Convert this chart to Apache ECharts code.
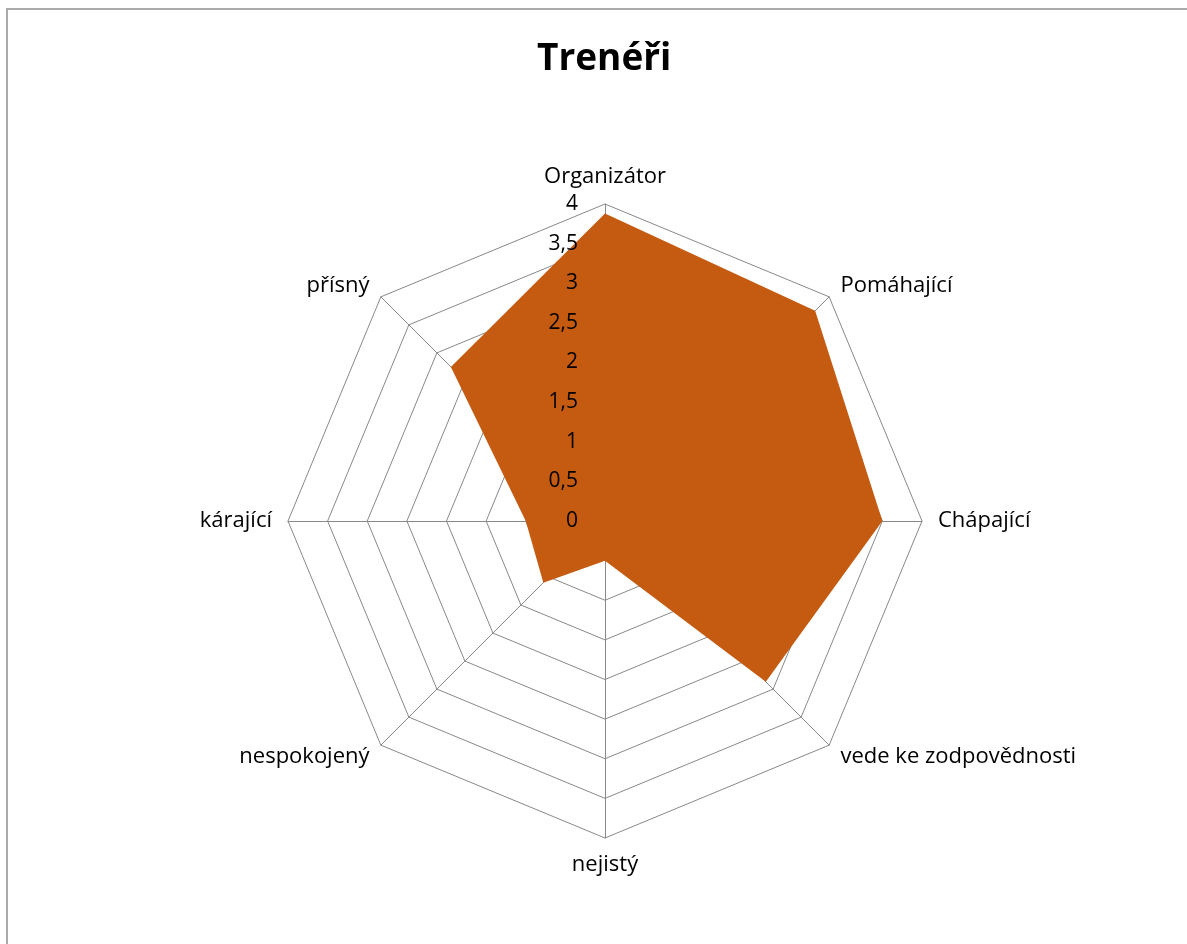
<!DOCTYPE html>
<html>
<head>
<meta charset="utf-8">
<script src="https://cdn.jsdelivr.net/npm/echarts@6/dist/echarts.min.js"></script>
<style>
html, body { margin: 0; padding: 0; background: #fff; }
#chart { width: 1187px; height: 944px; }
</style>
</head>
<body>
<div id="chart"></div>
<script>
// listed clockwise from the top, as in the reference
var categories = ['Organizátor', 'Pomáhající', 'Chápající', 'vede ke zodpovědnosti', 'nejistý', 'nespokojený', 'kárající', 'přísný'];
var values = [3.88, 3.75, 3.5, 2.87, 0.5, 1.1, 1.0, 2.75];
var axisMax = 4;
var tickStep = 0.5;

var center = [605, 521];
var radius = 317;

// echarts radar runs counter-clockwise, so keep the first and reverse the rest
function clockwise(arr) {
    return [arr[0]].concat(arr.slice(1).reverse());
}

var myChart = echarts.init(document.getElementById('chart'));
var option = {
    backgroundColor: '#fff',
    title: {
        text: 'Trenéři',
        left: 532,
        top: 36,
        textStyle: { fontFamily: 'Open Sans', fontSize: 37, fontWeight: 'bold', color: '#000' }
    },
    graphic: [{
        type: 'rect',
        shape: { x: 7, y: 9, width: 1200, height: 1000 },
        style: { fill: 'none', stroke: '#aaaaaa', lineWidth: 2 },
        silent: true
    }],
    radar: {
        center: center,
        radius: radius,
        startAngle: 90,
        splitNumber: axisMax / tickStep,
        shape: 'polygon',
        nameGap: 16,
        indicator: clockwise(categories).map(function (c) { return { name: c, min: 0, max: axisMax }; }),
        axisName: { color: '#000', fontSize: 22, fontFamily: 'Open Sans' },
        axisLine: { lineStyle: { color: '#898989', width: 1 } },
        splitLine: { lineStyle: { color: '#898989', width: 1 } },
        splitArea: { show: false }
    },
    polar: { center: center, radius: radius },
    angleAxis: { show: false, startAngle: 90, min: 0, max: 360 },
    radiusAxis: {
        min: 0, max: axisMax, interval: tickStep, z: 10,
        axisLine: { show: false },
        axisTick: { show: false },
        splitLine: { show: false },
        axisLabel: {
            color: '#000', fontSize: 21, fontFamily: 'Open Sans', margin: 27,
            formatter: function (v) { return String(v).replace('.', ','); }
        }
    },
    series: [{
        type: 'radar',
        symbol: 'none',
        lineStyle: { width: 0 },
        areaStyle: { color: '#c55a11', opacity: 1 },
        data: [{ value: clockwise(values), name: 'Trenéři' }]
    }]
};
myChart.setOption(option);
</script>
</body>
</html>
